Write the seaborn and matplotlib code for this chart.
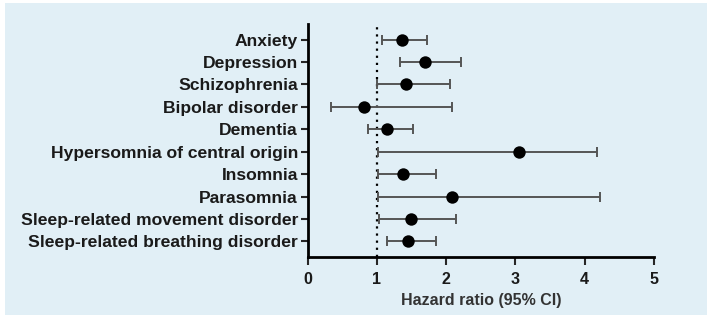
import pandas as pd
import numpy as np
import matplotlib.pyplot as plt
import seaborn as sns
from matplotlib.patches import Rectangle

conditions = ['Anxiety', 'Depression', 'Schizophrenia', 'Bipolar disorder', 'Dementia',
              'Hypersomnia of central origin', 'Insomnia', 'Parasomnia',
              'Sleep-related movement disorder', 'Sleep-related breathing disorder']
hr = [1.36, 1.70, 1.42, 0.82, 1.15, 3.05, 1.38, 2.09, 1.49, 1.45]
ci_low = [1.07, 1.33, 1.00, 0.33, 0.87, 1.01, 1.02, 1.02, 1.03, 1.14]
ci_high = [1.72, 2.21, 2.06, 2.08, 1.52, 4.18, 1.85, 4.22, 2.14, 1.85]

df = pd.DataFrame({'condition': conditions, 'hr': hr, 'lo': ci_low, 'hi': ci_high})
df['pos'] = np.arange(len(df))

bg = '#e1eff6'
sns.set_style('ticks')
plt.rcParams['font.family'] = ['Liberation Sans', 'DejaVu Sans']
plt.rcParams['font.weight'] = 'bold'

fig = plt.figure(figsize=(7.1, 3.15), dpi=100)
fig.patch.set_facecolor('white')
fig.patches.append(Rectangle((5 / 710, 0), 702 / 710, 1 - 3 / 315, transform=fig.transFigure,
                             facecolor=bg, edgecolor='none', zorder=-10))
ax = fig.add_axes([0.4334, 0.184, 0.921 - 0.4334, 0.924 - 0.184])
ax.set_facecolor(bg)

ax.axvline(1, color='black', linestyle=(0, (1, 2.2)), linewidth=1.6, zorder=1)
ax.errorbar(df['hr'], df['pos'], xerr=[df['hr'] - df['lo'], df['hi'] - df['hr']],
            fmt='none', ecolor='#555555', elinewidth=1.4, capsize=3.5, capthick=1.4, zorder=2)
sns.scatterplot(data=df, x='hr', y='pos', color='black', s=80, edgecolor='black',
                linewidth=0, ax=ax, zorder=3)

ax.set_xlim(0, 5)
ax.set_ylim(9.7, -0.7)
ax.set_xticks(range(6))
ax.set_yticks(df['pos'])
ax.set_yticklabels(conditions)
ax.set_xlabel('Hazard ratio (95% CI)', fontsize=11.5, fontweight='bold', color='#333333', labelpad=4)
ax.set_ylabel('')
ax.tick_params(axis='y', length=5, width=1.5, labelsize=12.6, pad=2, labelcolor='#1a1a1a')
ax.tick_params(axis='x', length=6, width=1.5, labelsize=11.5, pad=5, labelcolor='#1a1a1a')
for s in ['left', 'bottom']:
    ax.spines[s].set_linewidth(2)
    ax.spines[s].set_color('black')
sns.despine(ax=ax)

fig.savefig('out.png', dpi=100, facecolor='white')
